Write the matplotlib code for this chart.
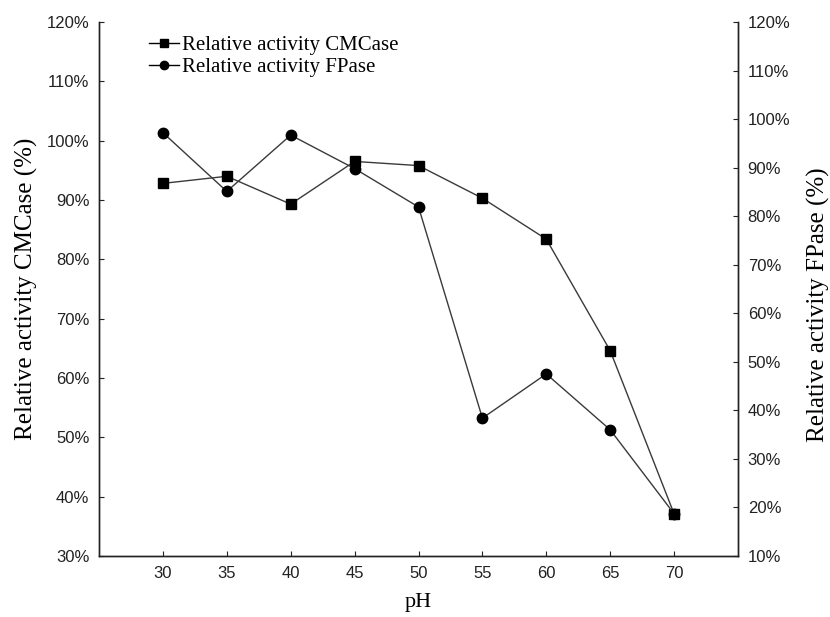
import matplotlib
matplotlib.use("Agg")
import matplotlib.pyplot as plt
from matplotlib.ticker import FuncFormatter, MultipleLocator

ph = [30, 35, 40, 45, 50, 55, 60, 65, 70]
cmcase = [92.8, 94.0, 89.3, 96.5, 95.8, 90.3, 83.4, 64.6, 37.1]
fpase = [97.2, 85.1, 96.7, 89.8, 81.9, 38.4, 47.5, 36.0, 18.7]
xticks = [30, 35, 40, 45, 50, 55, 60, 65, 70]

serif = ["Liberation Serif", "DejaVu Serif"]
sans = ["Liberation Sans", "DejaVu Sans"]

fig = plt.figure(figsize=(8.3, 6.17), dpi=100)
ax = fig.add_axes([99/830, 61/617, (738-99)/830, (556-22)/617])
ax2 = ax.twinx()

line_c = "#3a3a3a"
l1, = ax.plot(ph, cmcase, color=line_c, lw=1.0, marker="s", ms=7.5,
              mfc="black", mec="black", label="Relative activity CMCase")
l2, = ax2.plot(ph, fpase, color=line_c, lw=1.0, marker="o", ms=7.5,
               mfc="black", mec="black", label="Relative activity FPase")

ax.set_xlim(25, 75)
ax.set_ylim(30, 120)
ax2.set_ylim(10, 120)
ax.set_xticks(xticks)
ax.yaxis.set_major_locator(MultipleLocator(10))
ax2.yaxis.set_major_locator(MultipleLocator(10))
pct = FuncFormatter(lambda v, p: f"{v:.0f}%")
ax.yaxis.set_major_formatter(pct)
ax2.yaxis.set_major_formatter(pct)

for a in (ax, ax2):
    a.spines["top"].set_visible(False)
    for s in a.spines.values():
        s.set_linewidth(1.0)
        s.set_color("#222222")
    a.tick_params(direction="in", length=3.5, width=0.8, color="#222222",
                  labelsize=12, pad=7)
    for t in a.get_xticklabels() + a.get_yticklabels():
        t.set_family(sans)
        t.set_color("#222222")

ax.set_xlabel("pH", family=serif, fontsize=16, labelpad=9)
ax.set_ylabel("Relative activity CMCase (%)", family=serif, fontsize=18, labelpad=6)
ax2.set_ylabel("Relative activity FPase (%)", family=serif, fontsize=18)
ax2.yaxis.set_label_coords(1.108, 0.47)

leg = ax.legend(handles=[l1, l2], loc="upper left", bbox_to_anchor=(0.065, 0.99),
                frameon=False, prop={"family": serif, "size": 15},
                handlelength=1.45, handletextpad=0.15, labelspacing=0.1,
                borderaxespad=0.0)
for h in leg.legend_handles:
    h.set_markersize(6)
    h.set_color("black")

fig.savefig("out.png", dpi=100)
